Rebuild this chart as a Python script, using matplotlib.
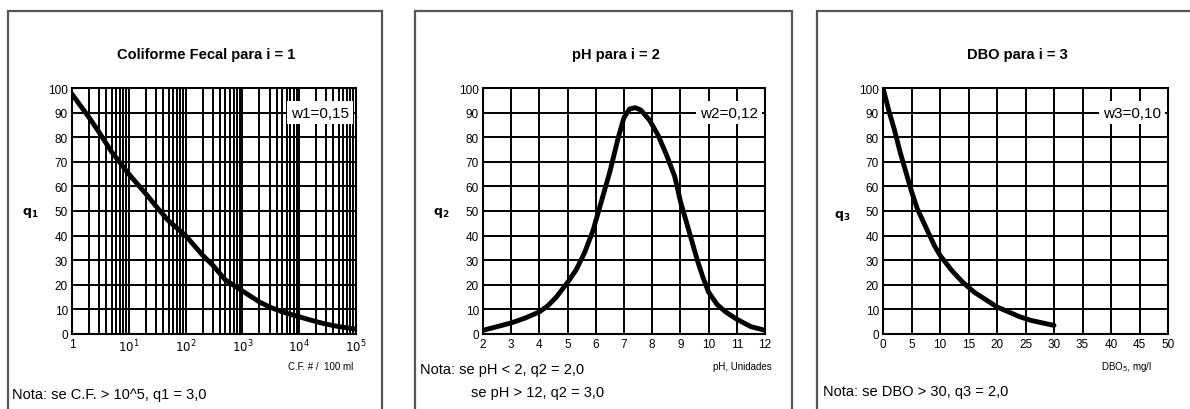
import matplotlib.pyplot as plt
from matplotlib.patches import Rectangle

plt.rcParams['font.family'] = ['Liberation Sans', 'DejaVu Sans']

# coliforme fecal (NMP/100 ml) vs q1
cf_x = [1, 2, 3, 5, 10, 20, 30, 50, 100, 200, 300, 500, 1000, 2000, 3000, 5000,
        10000, 20000, 30000, 50000, 100000]
cf_q = [97.5, 88, 82, 74, 65, 57, 52, 46, 40, 32, 28, 22, 17.5, 13, 11, 9,
        7, 5, 4, 3, 2]

# pH vs q2
ph_x = [2, 2.5, 3, 3.5, 4, 4.3, 4.6, 5, 5.3, 5.6, 5.9, 6.2, 6.5, 6.8, 7.0, 7.2,
        7.4, 7.6, 7.9, 8.2, 8.5, 8.8, 9.0, 9.2, 9.4, 9.6, 9.8, 10, 10.3, 10.6,
        11, 11.5, 12]
ph_q = [1.5, 3, 4.5, 6.5, 9, 11.5, 15, 21, 26, 33, 42, 54, 66, 80, 88, 91.5,
        92, 91, 87, 81, 73, 64, 54, 46, 38, 30, 23, 17, 12, 9,
        6, 3, 1.5]

# DBO (mg/l) vs q3
dbo_x = [0, 1, 2, 3, 4, 5, 6, 7, 8, 9, 10, 12, 14, 16, 18, 20, 22, 24, 26, 28, 30]
dbo_q = [100, 91, 83, 74, 66, 58, 51, 46, 41, 36, 32, 26, 21, 17, 14, 11, 9, 7,
         5.5, 4.5, 3.5]

titles = ["Coliforme Fecal para i = 1", "pH para i = 2", "DBO para i = 3"]
weights = ["w1=0,15", "w2=0,12", "w3=0,10"]

W, H = 1190, 410
fig = plt.figure(figsize=(W / 100, H / 100), dpi=100)


def fx(px):
    return px / W


def fy(py):
    return 1 - py / H


# panel frames
for x0, x1 in [(8, 382), (415, 792), (817, 1200)]:
    fig.patches.append(Rectangle((fx(x0), fy(430)), fx(x1 - x0), (430 - 12) / H,
                                 transform=fig.transFigure, fill=False,
                                 edgecolor='#555555', lw=1.6))

ax_px = [(72, 356), (483, 765), (883, 1168)]
axes = []
for x0, x1 in ax_px:
    ax = fig.add_axes([fx(x0), fy(335), fx(x1 - x0), (335 - 89) / H])
    axes.append(ax)

for ax in axes:
    ax.set_ylim(0, 100)
    ax.set_yticks(range(0, 101, 10))
    ax.grid(True, which='both', color='black', lw=1.4)
    ax.tick_params(which='both', length=0, labelsize=8.5, pad=3)
    for s in ax.spines.values():
        s.set_linewidth(1.5)
    ax.set_axisbelow(True)

# panel 1
ax = axes[0]
ax.set_xscale('log')
ax.set_xlim(1, 1e5)
ax.set_xticks([1, 10, 100, 1000, 10000, 100000])
ax.set_xticklabels(['1', '$10^1$', '$10^2$', '$10^3$', '$10^4$', '$10^5$'])

curves = [(cf_x, cf_q), (ph_x, ph_q), (dbo_x, dbo_q)]
for ax, (xs, ys) in zip(axes, curves):
    ax.plot(xs, ys, color='black', lw=3.5, solid_capstyle='round',
            solid_joinstyle='round')

# panel 2
axes[1].set_xlim(2, 12)
axes[1].set_xticks(range(2, 13))

# panel 3
axes[2].set_xlim(0, 50)
axes[2].set_xticks(range(0, 51, 5))

for ax, (x0, x1), t, w in zip(axes, ax_px, titles, weights):
    fig.text(fx((x0 + x1) / 2 - 8), fy(55), t, ha='center', va='center',
             fontsize=10.5, fontweight='bold')
    ax.text(0.975, 0.9, w, transform=ax.transAxes, ha='right', va='center',
            fontsize=11, bbox=dict(facecolor='white', edgecolor='none', pad=3))

# y labels
fig.text(fx(30), fy(213), '$\\mathbf{q_1}$', ha='center', va='center', fontsize=9)
fig.text(fx(441), fy(213), '$\\mathbf{q_2}$', ha='center', va='center', fontsize=9)
fig.text(fx(842), fy(216), '$\\mathbf{q_3}$', ha='center', va='center', fontsize=9)

# x labels
fig.text(fx(353), fy(367), 'C.F. # /  100 ml', ha='right', va='center', fontsize=7)
fig.text(fx(772), fy(367), 'pH, Unidades', ha='right', va='center', fontsize=7)
fig.text(fx(1152), fy(367), 'DBO$_5$, mg/l', ha='right', va='center', fontsize=7)

# notes
fig.text(fx(12), fy(395), 'Nota: se C.F. > 10^5, q1 = 3,0', ha='left', va='center',
         fontsize=10.5)
fig.text(fx(420), fy(370), 'Nota: se pH < 2, q2 = 2,0', ha='left', va='center',
         fontsize=10.5)
fig.text(fx(471), fy(393), 'se pH > 12, q2 = 3,0', ha='left', va='center',
         fontsize=10.5)
fig.text(fx(823), fy(392), 'Nota: se DBO > 30, q3 = 2,0', ha='left', va='center',
         fontsize=10.5)

fig.savefig('out.png', dpi=100)
